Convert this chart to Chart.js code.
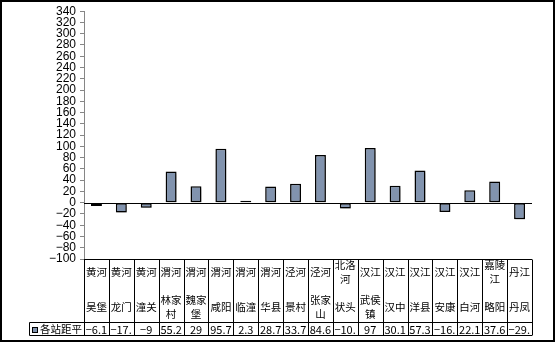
<!DOCTYPE html>
<html>
<head>
<meta charset="utf-8">
<script src="https://cdn.jsdelivr.net/npm/chart.js@4"></script>
<style>
html,body{margin:0;background:#fff}
canvas{display:block}
</style>
</head>
<body>
<canvas id="chart" width="555" height="342"></canvas>
<script>
// 各站距平 (河流 / 站名)
const rivers=['黄河','黄河','黄河','渭河','渭河','渭河','渭河','渭河','泾河','泾河','北洛河','汉江','汉江','汉江','汉江','汉江','嘉陵江','丹江'];
const stations=['吴堡','龙门','潼关','林家村','魏家堡','咸阳','临潼','华县','景村','张家山','状头','武侯镇','汉中','洋县','安康','白河','略阳','丹凤'];
const values=[-6.1,-17.4,-9,55.2,29,95.7,2.3,28.7,33.7,84.6,-10.5,97,30.1,57.3,-16.4,22.1,37.6,-29.6];
const seriesName='各站距平';

const barColor='#8193ae';
const cjk='"Noto Sans CJK SC", sans-serif';
const minus=s=>String(s).replace('-','−');

// split long names onto two lines (2 chars + rest)
function wrap(ctx,txt,w){
  if(ctx.measureText(txt).width<=w-2) return [txt];
  return [txt.slice(0,2),txt.slice(2)];
}

// soft shadow under the bars
const barShadow={
  id:'barShadow',
  beforeDatasetDraw(chart){
    const c=chart.ctx;
    c.save();
    c.shadowColor='rgba(0,0,0,0.35)';
    c.shadowBlur=3;
    c.shadowOffsetX=1;
    c.shadowOffsetY=2;
  },
  afterDatasetDraw(chart){ chart.ctx.restore(); }
};

// zero line
const zeroLine={
  id:'zeroLine',
  afterDatasetsDraw(chart){
    const c=chart.ctx, a=chart.chartArea;
    const y0=Math.round(chart.scales.y.getPixelForValue(0))+0.5;
    c.save();
    c.strokeStyle='#000'; c.lineWidth=1.2;
    c.beginPath(); c.moveTo(a.left,y0); c.lineTo(a.right,y0); c.stroke();
    c.restore();
  }
};

// data table under the plot + outer frame
const dataTable={
  id:'dataTable',
  afterDraw(chart){
    const c=chart.ctx, a=chart.chartArea, xs=chart.scales.x;
    const labels=chart.data.labels, ds=chart.data.datasets[0];
    const n=labels.length, w=(a.right-a.left)/n;
    const top=Math.round(a.bottom)+0.5, mid=322.5, bot=335.5, keyL=29.5;

    c.save();
    c.strokeStyle='#000'; c.lineWidth=1;
    c.beginPath();
    c.moveTo(a.left,top); c.lineTo(a.right,top);
    c.moveTo(keyL,mid); c.lineTo(a.right,mid);
    c.moveTo(keyL,bot); c.lineTo(a.right,bot);
    c.moveTo(keyL,mid); c.lineTo(keyL,bot);
    for(let i=0;i<=n;i++){
      const px=Math.round(xs.getPixelForValue(0)-w/2+i*w)+0.5;
      c.moveTo(px,top); c.lineTo(px,bot);
    }
    c.stroke();

    c.fillStyle='#000';
    c.textBaseline='middle';
    for(let i=0;i<n;i++){
      const cx=xs.getPixelForValue(i), l=cx-w/2;
      c.font='10.5px '+cjk;
      c.textAlign='center';
      const r=wrap(c,labels[i][0],w);
      if(r.length==1) c.fillText(r[0],cx,272);
      else { c.fillText(r[0],cx,265); c.fillText(r[1],cx,279); }
      const s=wrap(c,labels[i][1],w);
      if(s.length==1) c.fillText(s[0],cx,307);
      else { c.fillText(s[0],cx,300); c.fillText(s[1],cx,314); }

      // value cell: drop trailing characters that do not fit
      c.font='11px '+cjk;
      let t=minus(ds.data[i]);
      if(c.measureText(t).width>w-2){
        while(t.length>1 && c.measureText(t).width>w-2) t=t.slice(0,-1);
        c.textAlign='left'; c.fillText(t,l+1.5,329.5);
      } else c.fillText(t,cx,329.5);
    }

    // legend key
    c.fillStyle=ds.backgroundColor;
    c.fillRect(32,327,5,5);
    c.strokeRect(32.5,327.5,5,5);
    c.fillStyle='#000';
    c.font='10.5px '+cjk;
    c.textAlign='left';
    c.fillText(ds.label,40,329.5);

    c.lineWidth=2;
    c.strokeRect(1,1,553,340);
    c.restore();
  }
};

new Chart(document.getElementById('chart'),{
  type:'bar',
  data:{
    labels:rivers.map((r,i)=>[r,stations[i]]),
    datasets:[{
      label:seriesName,
      data:values,
      backgroundColor:barColor,
      borderColor:'#000',
      borderWidth:1.5,
      borderSkipped:false,
      minBarLength:2,
      barPercentage:0.44,
      categoryPercentage:1
    }]
  },
  options:{
    responsive:false,
    animation:false,
    devicePixelRatio:1,
    layout:{padding:{top:10,right:23,bottom:83,left:0}},
    scales:{
      x:{display:false},
      y:{
        min:-100,max:340,
        ticks:{stepSize:20,autoSkip:false,color:'#000',padding:4,
          font:{family:'"Liberation Sans", Arial, sans-serif',size:12},
          callback:v=>minus(v)},
        grid:{drawOnChartArea:false,drawTicks:true,tickLength:4,color:'#868686'},
        border:{color:'#868686',width:1},
        afterFit(s){ s.width=84; }
      }
    },
    plugins:{legend:{display:false},tooltip:{enabled:false}}
  },
  plugins:[barShadow,zeroLine,dataTable]
});
</script>
</body>
</html>
